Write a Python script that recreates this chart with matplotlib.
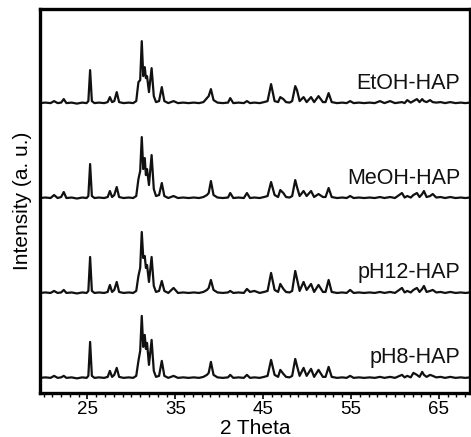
import numpy as np
import matplotlib
matplotlib.use("Agg")
import matplotlib.pyplot as plt
from matplotlib.ticker import MultipleLocator, FixedLocator

plt.rcParams['font.family'] = ['Liberation Sans', 'DejaVu Sans']

# 2-theta vertices of the traces (shared by all samples)
two_theta = np.array([
    19.6, 20.2, 20.8, 21.2, 21.6, 22.0, 22.3, 22.6, 23.2, 23.8, 24.4, 24.9, 25.1, 25.3, 25.5, 25.8,
    26.3, 26.9, 27.3, 27.55, 27.8, 28.05, 28.33, 28.6, 29.1, 29.7, 30.2, 30.55,
    30.8, 31.0, 31.18, 31.35, 31.52, 31.65, 31.78, 32.0, 32.3, 32.55, 32.8, 33.15, 33.46, 33.75,
    34.2, 34.8, 35.3, 35.9, 36.5, 37.1, 37.7, 38.2, 38.6, 38.8, 39.05, 39.35, 39.8,
    40.4, 41.0, 41.25, 41.6, 42.2, 42.8, 43.15, 43.5, 44.0, 44.6, 45.1, 45.5,
    45.9, 46.3, 46.7, 46.95, 47.3, 47.6, 48.0, 48.3, 48.65, 48.85, 49.15, 49.6, 49.95, 50.45, 50.8, 51.3, 51.8, 52.1, 52.45, 52.8,
    53.4, 54.0, 54.5, 54.9, 55.3, 55.9, 56.5, 57.1, 57.7, 58.3, 58.8, 59.45, 60.0,
    60.8, 61.1, 61.4, 61.8, 62.1, 62.5, 62.8, 63.1, 63.3, 63.6, 64.0, 64.3, 64.7, 65.2, 65.7, 66.3, 66.9, 67.5, 68.0, 68.55,
])

etoh = np.array([
    1, 1.5, 1, 3, 1, 1.5, 5, 1, 1.5, 0.5, 1.5, 1, 3, 34, 3, 1,
    1.5, 1, 2, 7, 2, 3, 12, 2, 1, 1.5, 1, 3,
    22, 24, 63, 28, 37, 26, 28, 12, 36, 8, 2, 3, 17, 3,
    1, 3, 1, 1.5, 1, 1.5, 1, 2, 6, 8, 15, 4, 1.5,
    1, 1.5, 6, 1, 1.5, 1, 3, 1, 1.5, 1, 2, 3,
    20, 3, 2, 7, 5, 2, 1.5, 3, 18, 14, 3, 7, 2, 7, 2, 8, 2, 2, 11, 2,
    1, 1.5, 1, 3, 1, 1.5, 1, 1.5, 1, 3, 1, 3, 1,
    2, 1, 4, 1.5, 3, 5, 2, 5, 3, 2, 4, 2, 1.5, 2, 1, 2, 1, 1.5, 1, 1.5,
])

meoh = np.array([
    1, 1.5, 1, 4, 1, 2, 7, 1, 1.5, 0.5, 1.5, 1, 3, 35, 3, 1,
    1.5, 1, 2, 8, 2, 4, 12, 2, 1, 1.5, 1, 3,
    20, 28, 62, 30, 41, 24, 30, 14, 44, 10, 3, 4, 16, 3,
    1, 3, 1, 1.5, 1, 1.5, 1, 2, 4, 6, 18, 4, 1.5,
    1, 1.5, 6, 1, 1.5, 1, 6, 1, 1.5, 1, 2, 3,
    17, 4, 2, 9, 6, 2, 1.5, 3, 19, 12, 3, 8, 3, 8, 2, 5, 2, 2, 11, 2,
    1, 1.5, 1, 3, 1, 1.5, 1, 1.5, 1, 2, 1, 2, 1,
    6, 1.5, 3, 1.5, 4, 6, 2, 5, 8, 2, 3, 5, 1.5, 2, 1, 2, 1, 1.5, 1, 1.5,
])

ph12 = np.array([
    1, 1.5, 1, 3, 1, 1.5, 4, 1, 1.5, 0.5, 1.5, 1, 3, 37, 3, 1,
    1.5, 1, 2, 9, 2, 4, 12, 2, 1, 1.5, 1, 3,
    18, 26, 62, 36, 38, 26, 29, 12, 37, 8, 2, 3, 13, 3,
    1, 6, 1, 1.5, 1, 1.5, 1, 2, 4, 6, 14, 4, 1.5,
    1, 1.5, 3, 1, 1.5, 1, 5, 2, 3, 1, 2, 3,
    21, 4, 2, 10, 5, 2, 1.5, 3, 23, 15, 3, 12, 4, 10, 2, 9, 2, 2, 14, 2,
    1, 1.5, 1, 4, 1, 1.5, 1, 1.5, 1, 2, 1, 2, 1,
    6, 1.5, 3, 1.5, 4, 6, 2, 5, 8, 2, 3, 4, 1.5, 2, 1, 2, 1, 1.5, 1, 1.5,
])

ph8 = np.array([
    1, 1.5, 1, 3, 1, 1.5, 3, 1, 1.5, 0.5, 1.5, 1, 3, 37, 3, 1,
    1.5, 1, 2, 8, 2, 4, 11, 2, 1, 1.5, 1, 3,
    18, 28, 63, 32, 44, 30, 36, 14, 39, 8, 2, 3, 18, 3,
    1, 3, 1, 1.5, 1, 1.5, 1, 2, 4, 6, 17, 4, 1.5,
    1, 1.5, 4, 1, 1.5, 1, 4, 1, 1.5, 1, 2, 3,
    19, 4, 2, 9, 5, 2, 1.5, 3, 20, 13, 3, 11, 3, 10, 2, 9, 2, 2, 12, 2,
    1, 1.5, 1, 3, 1, 1.5, 1, 1.5, 1, 2, 1, 2, 1,
    4, 1.5, 3, 1.5, 6, 4, 2, 7, 4, 2, 4, 3, 1.5, 2, 1, 2, 1, 1.5, 1, 1.5,
])

samples = ['EtOH-HAP', 'MeOH-HAP', 'pH12-HAP', 'pH8-HAP']
patterns = [etoh, meoh, ph12, ph8]
offsets = [289, 194, 99, 14]

fig = plt.figure(figsize=(4.71, 4.37), dpi=100)
ax = fig.add_axes([0.085, 0.101, 0.913, 0.878])

for name, y, off in zip(samples, patterns, offsets):
    ax.plot(two_theta, y + off, color='#111111', lw=1.6)
    ax.text(67.45, off + 21, name, ha='right', va='center', fontsize=15.5, color='#111111')

ax.set_xlim(19.6, 68.55)
ax.set_ylim(0, 384)
ax.xaxis.set_major_locator(FixedLocator([25, 35, 45, 55, 65]))
ax.xaxis.set_minor_locator(MultipleLocator(1))
ax.tick_params(axis='x', which='major', direction='out', length=4, width=1.2, labelsize=13.5, pad=1.5)
ax.tick_params(axis='x', which='minor', direction='out', length=3, width=1.0)
ax.set_yticks([])
for s in ax.spines.values():
    s.set_linewidth(2.4)

ax.set_xlabel('2 Theta', fontsize=15, labelpad=1)
ax.set_ylabel('Intensity (a. u.)', fontsize=15, labelpad=6)

plt.savefig('out.png', dpi=100)
